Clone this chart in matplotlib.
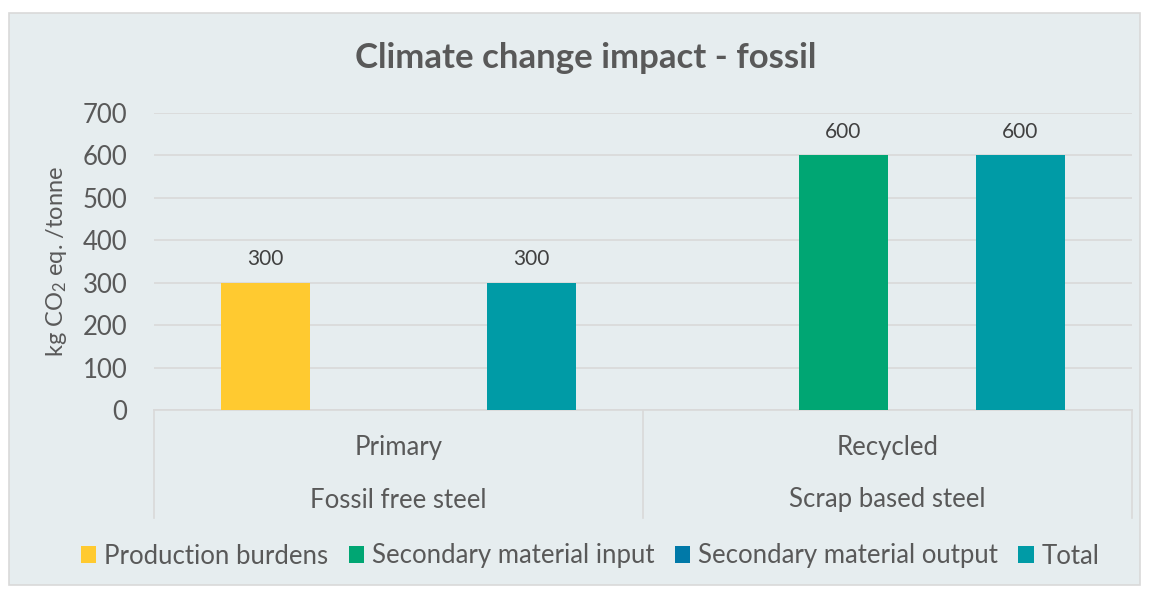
import numpy as np
import matplotlib.pyplot as plt
from matplotlib.patches import Rectangle, Patch

# data
groups = ['Fossil free steel', 'Scrap based steel']
subgroups = ['Primary', 'Recycled']
series = ['Production burdens', 'Secondary material input',
          'Secondary material output', 'Total']
production_burdens = [300, 0]
secondary_input = [0, 600]
secondary_output = [0, 0]
total = [300, 600]
colors = ['#FFCA30', '#00A673', '#0079A8', '#009BA6']

plt.rcParams['font.family'] = ['Lato', 'DejaVu Sans']
plt.rcParams['mathtext.fontset'] = 'custom'
plt.rcParams['mathtext.rm'] = 'Lato'
plt.rcParams['mathtext.it'] = 'Lato:italic'
txt = '#595959'
bg = '#E6EDEF'
fs = 18.5

fig = plt.figure(figsize=(11.49, 5.89), dpi=100)
W, H = 1149, 589
fig.patches.append(Rectangle((9 / W, 4 / H), 1131 / W, 572 / H, transform=fig.transFigure,
                             facecolor=bg, edgecolor='#D9D9D9', lw=1.2, zorder=-5))

ax = fig.add_axes([154 / W, 179 / H, 978 / W, 297 / H])
ax.set_facecolor('none')

x = np.arange(len(groups))
bw = 88.7 / 489
vals = [production_burdens, secondary_input, secondary_output, total]
for i, (name, v, c) in enumerate(zip(series, vals, colors)):
    pos = x + (i - 1.5) * bw
    bars = ax.bar(pos, v, width=bw, color=c, zorder=3, label=name)
    for p, val in zip(pos, v):
        if val:
            ax.text(p, val + 32, f'{val}', ha='center', va='bottom', fontsize=15, color='#404040')

ax.set_xlim(-0.5, 1.5)
ax.set_ylim(0, 700)
ax.set_yticks(range(0, 701, 100))
ax.tick_params(axis='y', length=0, labelsize=fs, labelcolor=txt, pad=19)
ax.grid(axis='y', color='#D9D9D9', lw=1.2, zorder=0)
ax.set_xticks([])
for s in ['top', 'right', 'left']:
    ax.spines[s].set_visible(False)
ax.spines['bottom'].set_color('#D9D9D9')
ax.spines['bottom'].set_linewidth(1.2)

# two-level category axis
tr = ax.get_xaxis_transform()
for b in [-0.5, 0.5, 1.5]:
    ax.plot([b, b], [0, -108 / 297], transform=tr, color='#D9D9D9', lw=1.2, clip_on=False)
for xi, sg, g in zip(x, subgroups, groups):
    ax.text(xi, -37 / 297, sg, transform=tr, ha='center', va='center', fontsize=fs, color=txt)
    ax.text(xi, -90 / 297, g, transform=tr, ha='center', va='center', fontsize=fs, color=txt)

ax.set_ylabel('kg CO$_2$ eq. /tonne', fontsize=17, color=txt, labelpad=10)
fig.text(586 / W, 1 - 58 / H, 'Climate change impact - fossil', ha='center', va='center',
         fontsize=25, fontweight='bold', color=txt)

handles = [Patch(facecolor=c, label=n) for n, c in zip(series, colors)]
fig.legend(handles=handles, loc='center', bbox_to_anchor=(590 / W, 1 - 556 / H), ncol=4,
           frameon=False, fontsize=fs, labelcolor=txt, handlelength=0.6, handleheight=0.6,
           handletextpad=0.3, columnspacing=0.8)

fig.savefig('out.png', dpi=100, facecolor='white')
